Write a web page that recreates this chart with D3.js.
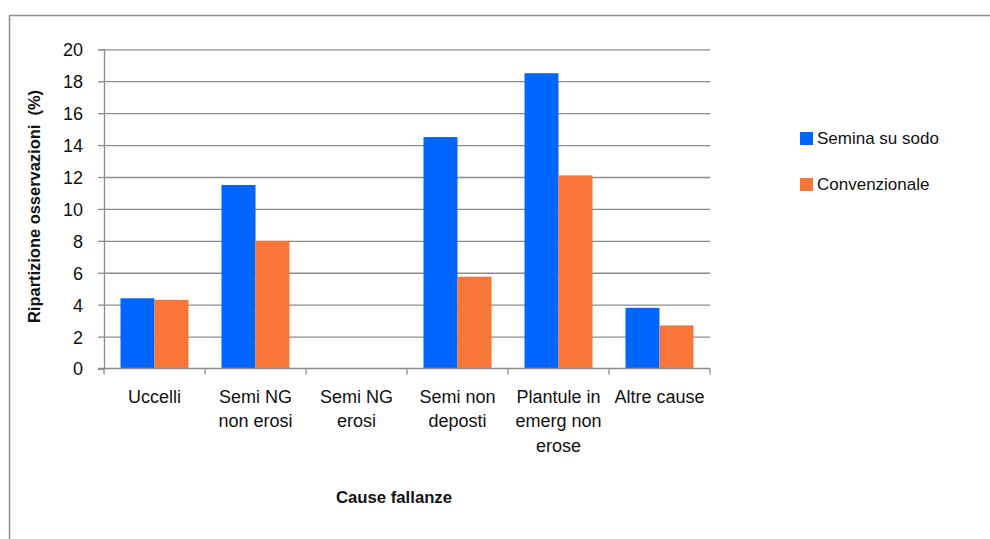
<!DOCTYPE html>
<html>
<head>
<meta charset="utf-8">
<script src="https://cdn.jsdelivr.net/npm/d3@7"></script>
<style>
  html, body { margin: 0; padding: 0; background: #fff; }
  svg { display: block; font-family: "Liberation Sans", Arial, sans-serif; }
</style>
</head>
<body>
<svg id="chart" width="990" height="539"></svg>
<script>
// Categories (multi-line labels) and the two series, in percent
const categories = [
  ["Uccelli"],
  ["Semi NG", "non erosi"],
  ["Semi NG", "erosi"],
  ["Semi non", "deposti"],
  ["Plantule in", "emerg non", "erose"],
  ["Altre cause"]
];
const seriesNames = ["Semina su sodo", "Convenzionale"];
const seminaSuSodo = [4.4, 11.5, 0, 14.5, 18.5, 3.8];
const convenzionale = [4.3, 8.0, 0, 5.75, 12.1, 2.7];
const yTicks = [0, 2, 4, 6, 8, 10, 12, 14, 16, 18, 20];
const colors = ["#0066ff", "#fa7638"];

const svg = d3.select("#chart");
const plot = { left: 104, right: 710, top: 49.3, bottom: 368.5 };
const gridColor = "#8c8c8c";

// Outer chart frame (only top and left edges fall inside the window)
svg.append("rect")
  .attr("x", 9.5).attr("y", 15.5)
  .attr("width", 1000).attr("height", 600)
  .attr("fill", "none").attr("stroke", "#8f8f8f").attr("stroke-width", 1.5);

const keys = categories.map(c => c.join(" "));
const x0 = d3.scaleBand().domain(keys).range([plot.left, plot.right]).paddingInner(0).paddingOuter(0);
const x1 = d3.scaleBand().domain(seriesNames).range([0, x0.bandwidth()]).paddingInner(0).paddingOuter(0.485);
const y = d3.scaleLinear().domain([0, 20]).range([plot.bottom, plot.top]);

// Horizontal gridlines + y axis
const yAxis = d3.axisLeft(y).tickValues(yTicks).tickSize(6).tickPadding(15).tickFormat(d3.format("d"));
const gy = svg.append("g").attr("transform", `translate(${plot.left},0)`).call(yAxis);
gy.select(".domain").attr("stroke", gridColor).attr("stroke-width", 1.3);
gy.selectAll(".tick line").attr("stroke", gridColor).attr("stroke-width", 1.3);
gy.selectAll(".tick text").attr("font-size", 18).attr("fill", "#111").attr("dy", "0.36em")
  .attr("font-family", "'Liberation Sans', Arial, sans-serif");
gy.selectAll(".tick").append("line")
  .attr("x1", 0).attr("x2", plot.right - plot.left)
  .attr("stroke", gridColor).attr("stroke-width", 1.3)
  .attr("opacity", d => d === 0 ? 0 : 1);

// Bars
const data = keys.map((k, i) => ({ key: k, values: [seminaSuSodo[i], convenzionale[i]] }));
const groups = svg.append("g").selectAll("g").data(data).join("g")
  .attr("transform", d => `translate(${x0(d.key)},0)`);
groups.selectAll("rect")
  .data(d => d.values.map((v, j) => ({ name: seriesNames[j], value: v, j })))
  .join("rect")
  .attr("x", d => x1(d.name))
  .attr("y", d => y(d.value))
  .attr("width", x1.bandwidth())
  .attr("height", d => y(0) - y(d.value))
  .attr("fill", d => colors[d.j]);

// X axis line with category boundary ticks
svg.append("line")
  .attr("x1", plot.left - 6).attr("x2", plot.right)
  .attr("y1", plot.bottom).attr("y2", plot.bottom)
  .attr("stroke", gridColor).attr("stroke-width", 1.3);
const bounds = keys.map(k => x0(k)).concat([plot.right]);
svg.append("g").selectAll("line").data(bounds).join("line")
  .attr("x1", d => d).attr("x2", d => d)
  .attr("y1", plot.bottom).attr("y2", plot.bottom + 6)
  .attr("stroke", gridColor).attr("stroke-width", 1.3);

// Category labels
const catLabels = svg.append("g").selectAll("text").data(categories).join("text")
  .attr("x", (d, i) => x0(keys[i]) + x0.bandwidth() / 2)
  .attr("y", 403)
  .attr("text-anchor", "middle")
  .attr("font-size", 18)
  .attr("fill", "#111");
catLabels.selectAll("tspan").data(d => d).join("tspan")
  .attr("x", function () { return d3.select(this.parentNode).attr("x"); })
  .attr("dy", (d, i) => i === 0 ? 0 : 24.3)
  .text(d => d);

// Axis titles
svg.append("text")
  .attr("x", 394).attr("y", 503)
  .attr("text-anchor", "middle")
  .attr("font-size", 16).attr("font-weight", "bold").attr("fill", "#111")
  .attr("textLength", 116).attr("lengthAdjust", "spacingAndGlyphs")
  .text("Cause fallanze");

svg.append("text")
  .attr("transform", "translate(40,206.5) rotate(-90)")
  .attr("text-anchor", "middle")
  .attr("font-size", 16).attr("font-weight", "bold").attr("fill", "#111")
  .attr("textLength", 233).attr("lengthAdjust", "spacingAndGlyphs")
  .style("white-space", "pre")
  .text("Ripartizione osservazioni  (%)");

// Legend
const legend = svg.append("g").selectAll("g").data(seriesNames).join("g")
  .attr("transform", (d, i) => `translate(800,${132 + i * 46})`);
legend.append("rect").attr("width", 13).attr("height", 13).attr("fill", (d, i) => colors[i]);
legend.append("text")
  .attr("x", 17).attr("y", 11.5)
  .attr("font-size", 17).attr("fill", "#111")
  .text(d => d);
</script>
</body>
</html>
